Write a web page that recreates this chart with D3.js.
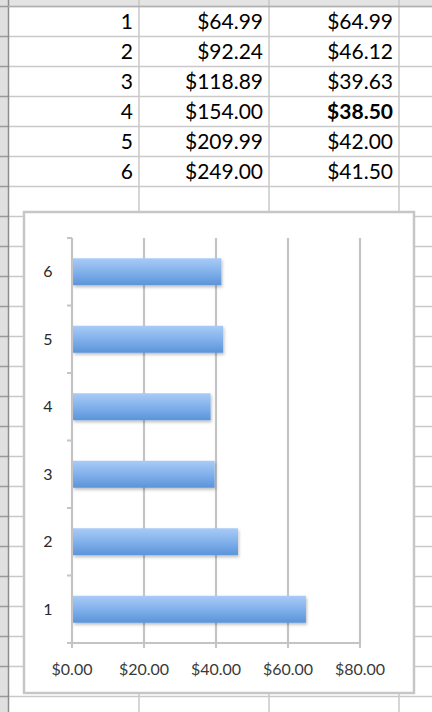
<!DOCTYPE html>
<html>
<head>
<meta charset="utf-8">
<script src="https://cdn.jsdelivr.net/npm/d3@7"></script>
<style>
  html, body { margin: 0; padding: 0; background: #fff; }
  svg { display: block; }
</style>
</head>
<body>
<div id="chart"></div>
<script>
// table + chart data
const quantities = [1, 2, 3, 4, 5, 6];
const totalPrices = [64.99, 92.24, 118.89, 154.00, 209.99, 249.00];
const unitPrices = [64.99, 46.12, 39.63, 38.50, 42.00, 41.50];
const bestIndex = 3; // bold cell
const xTicks = [0, 20, 40, 60, 80];

const width = 432, height = 712;
const fmtMoney = d3.format('$.2f');

const svg = d3.select('#chart').append('svg').attr('width', width).attr('height', height);

// spreadsheet grid
const rowTop = 6.5, rowH = 30;
const colEdges = [8, 139, 269, 399, 432];
const gridColor = '#c9c9c9';

// header strip + row gutter
svg.append('rect').attr('x', 0).attr('y', 0).attr('width', width).attr('height', rowTop).attr('fill', '#e4e4e4');
svg.append('rect').attr('x', 0).attr('y', 0).attr('width', 8).attr('height', height).attr('fill', '#e0e0e0');

const rowLines = d3.range(0, 24).map(i => rowTop + i * rowH);
svg.append('g').selectAll('line').data(rowLines).join('line')
  .attr('x1', 8).attr('x2', width).attr('y1', d => d).attr('y2', d => d)
  .attr('stroke', gridColor).attr('stroke-width', 1.5);
svg.append('g').selectAll('line').data(rowLines).join('line')
  .attr('x1', 0).attr('x2', 8).attr('y1', d => d).attr('y2', d => d)
  .attr('stroke', '#9a9a9a').attr('stroke-width', 1.5);
svg.append('g').selectAll('line').data(colEdges.slice(1, 4)).join('line')
  .attr('x1', d => d).attr('x2', d => d).attr('y1', 0).attr('y2', height)
  .attr('stroke', gridColor).attr('stroke-width', 1.5);
svg.append('line').attr('x1', 8.5).attr('x2', 8.5).attr('y1', 0).attr('y2', height)
  .attr('stroke', '#8c8c8c').attr('stroke-width', 1.5);
svg.append('line').attr('x1', 8).attr('x2', width).attr('y1', rowTop).attr('y2', rowTop)
  .attr('stroke', '#b0b0b0').attr('stroke-width', 1.5);

// table text
const rowY = d3.scaleLinear().domain([0, 1]).range([rowTop, rowTop + rowH]);
const cells = svg.append('g').attr('font-family', 'Lato, "Open Sans", sans-serif')
  .attr('font-size', 21).attr('fill', '#000').attr('text-anchor', 'end');
quantities.forEach((q, i) => {
  const y = rowY(i + 0.5) + 7.5;
  cells.append('text').attr('x', 133).attr('y', y).text(q);
  cells.append('text').attr('x', 263).attr('y', y).text(fmtMoney(totalPrices[i]));
  cells.append('text').attr('x', 393).attr('y', y).text(fmtMoney(unitPrices[i]))
    .attr('font-weight', i === bestIndex ? 'bold' : null);
});

// chart frame
const defs = svg.append('defs');
const grad = defs.append('linearGradient').attr('id', 'barGrad').attr('x1', 0).attr('x2', 0).attr('y1', 0).attr('y2', 1);
grad.append('stop').attr('offset', '0%').attr('stop-color', '#a9cbf6');
grad.append('stop').attr('offset', '55%').attr('stop-color', '#7eaeea');
grad.append('stop').attr('offset', '100%').attr('stop-color', '#5a94d9');
const shadow = defs.append('filter').attr('id', 'barShadow').attr('x', '-10%').attr('y', '-30%').attr('width', '130%').attr('height', '180%');
shadow.append('feDropShadow').attr('dx', 1).attr('dy', 2).attr('stdDeviation', 1.5).attr('flood-color', '#000').attr('flood-opacity', 0.25);

svg.append('rect').attr('x', 24).attr('y', 212).attr('width', 390).attr('height', 481)
  .attr('fill', '#fff').attr('stroke', '#c6c6c6').attr('stroke-width', 2.5);

// scales
const x = d3.scaleLinear().domain([0, 80]).range([72, 360]);
const y = d3.scaleBand().domain(quantities.slice().reverse()).range([238, 643])
  .paddingInner(0.6).paddingOuter(0.3);
const axisColor = '#c4c4c4';

// gridlines
svg.append('g').selectAll('line').data(xTicks.slice(1)).join('line')
  .attr('x1', d => x(d)).attr('x2', d => x(d)).attr('y1', 238).attr('y2', 643)
  .attr('stroke', axisColor).attr('stroke-width', 2.2);

// bars
svg.append('g').selectAll('rect').data(quantities).join('rect')
  .attr('x', x(0) + 1).attr('y', d => y(d))
  .attr('width', (d, i) => x(unitPrices[i]) - x(0) - 1)
  .attr('height', y.bandwidth())
  .attr('fill', 'url(#barGrad)')
  .attr('filter', 'url(#barShadow)');

// y axis with ticks at band edges
const step = y.step();
const yEdges = d3.range(0, 7).map(k => 238 + k * step);
svg.append('line').attr('x1', x(0)).attr('x2', x(0)).attr('y1', 238).attr('y2', 643)
  .attr('stroke', axisColor).attr('stroke-width', 2.2);
svg.append('g').selectAll('line').data(yEdges).join('line')
  .attr('x1', x(0) - 5).attr('x2', x(0)).attr('y1', d => d).attr('y2', d => d)
  .attr('stroke', axisColor).attr('stroke-width', 2);

// x axis
svg.append('line').attr('x1', x(0) - 5).attr('x2', x(80)).attr('y1', 643).attr('y2', 643)
  .attr('stroke', axisColor).attr('stroke-width', 2.2);
svg.append('g').selectAll('line').data(xTicks).join('line')
  .attr('x1', d => x(d)).attr('x2', d => x(d)).attr('y1', 643).attr('y2', 648)
  .attr('stroke', axisColor).attr('stroke-width', 2);

// labels
svg.append('g').selectAll('text').data(xTicks).join('text')
  .attr('x', d => x(d)).attr('y', 675)
  .attr('text-anchor', 'middle').attr('font-family', 'Lato, "Open Sans", sans-serif')
  .attr('font-size', 16).attr('fill', '#3a3a3a')
  .text(d => fmtMoney(d));
svg.append('g').selectAll('text').data(quantities).join('text')
  .attr('x', 48).attr('y', d => y(d) + y.bandwidth() / 2 + 5.5)
  .attr('text-anchor', 'middle').attr('font-family', 'Lato, "Open Sans", sans-serif')
  .attr('font-size', 16).attr('fill', '#2a2a2a')
  .text(d => d);
</script>
</body>
</html>
